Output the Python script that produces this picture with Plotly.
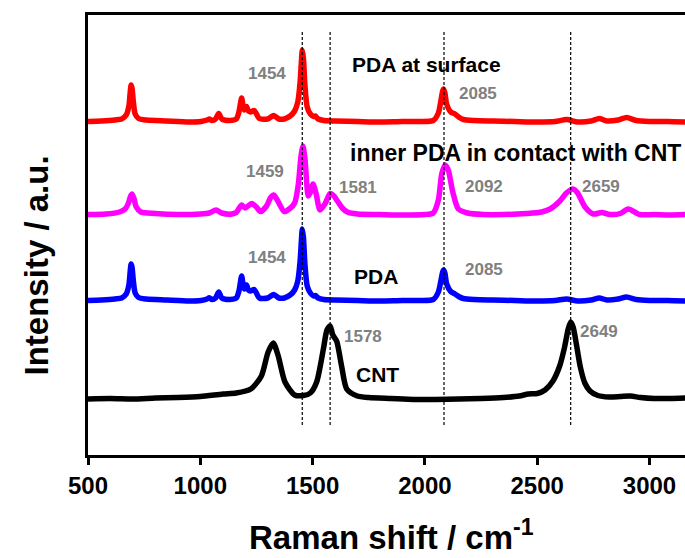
import plotly.graph_objects as go

# ---- Raman spectra (shift in cm^-1, intensity in a.u. above each baseline) ----
pda_shift = [500, 560, 620, 650, 670, 682, 688, 692, 696, 702, 710, 725, 760, 850, 950,
             1003, 1030, 1040, 1052, 1068, 1082, 1096, 1130, 1160, 1172, 1184, 1190, 1196,
             1206, 1214, 1223, 1240, 1263, 1300, 1327, 1350, 1374, 1400, 1420, 1434, 1444,
             1450, 1454, 1459, 1466, 1476, 1490, 1505, 1512, 1525, 1550, 1600, 1700, 1800,
             1900, 1980, 2037, 2060, 2071, 2079, 2083, 2089, 2097, 2115, 2134, 2150, 2171,
             2220, 2300, 2400, 2500, 2580, 2631, 2680, 2740, 2776, 2810, 2860, 2898, 2940,
             3000, 3080, 3160]

pda_surface = [0.05, 0.1, 0.2, 0.3, 0.7, 1.6, 3.0, 3.7, 3.4, 2.0, 0.8, 0.35, 0.2, 0.1, 0.0,
               0.05, 0.2, 0.3, 0.15, 0.3, 0.85, 0.3, 0.15, 0.3, 1.0, 2.4, 1.7, 1.2,
               1.55, 1.1, 1.0, 1.15, 0.35, 0.3, 0.65, 0.3, 0.3, 0.6, 1.1, 2.0, 3.9,
               6.0, 7.2, 6.4, 3.6, 1.5, 0.8, 0.55, 0.6, 0.3, 0.15, 0.1, 0.05, 0.0,
               0.05, 0.05, 0.15, 0.9, 2.1, 3.1, 3.3, 2.9, 1.8, 1.0, 0.8, 0.5, 0.25,
               0.15, 0.1, 0.05, 0.0, 0.05, 0.25, 0.0, 0.1, 0.35, 0.1, 0.2, 0.45, 0.15,
               0.05, 0.05, 0.0]

pda = [0.05, 0.1, 0.2, 0.3, 0.7, 1.6, 3.0, 3.7, 3.4, 2.0, 0.8, 0.35, 0.2, 0.1, 0.0,
       0.05, 0.2, 0.33, 0.15, 0.3, 0.9, 0.3, 0.15, 0.3, 1.0, 2.5, 1.7, 1.2,
       1.6, 1.1, 1.0, 1.15, 0.3, 0.3, 0.65, 0.3, 0.3, 0.6, 1.1, 2.0, 3.9,
       6.0, 7.2, 6.4, 3.6, 1.5, 0.8, 0.5, 0.55, 0.3, 0.15, 0.1, 0.05, 0.0,
       0.05, 0.05, 0.15, 0.9, 2.0, 2.9, 3.1, 2.8, 1.7, 0.95, 0.7, 0.45, 0.25,
       0.15, 0.1, 0.05, 0.0, 0.05, 0.2, 0.0, 0.1, 0.3, 0.1, 0.2, 0.4, 0.15,
       0.05, 0.05, 0.0]

inner_shift = [500, 580, 640, 665, 680, 690, 696, 704, 715, 735, 800, 900, 1000, 1040, 1070,
               1095, 1140, 1160, 1184, 1200, 1229, 1250, 1268, 1295, 1312, 1327, 1345, 1374,
               1399, 1420, 1436, 1448, 1457, 1466, 1481, 1491, 1502, 1515, 1533, 1555, 1578,
               1595, 1612, 1632, 1655, 1700, 1800, 1900, 2000, 2037, 2060, 2075, 2090, 2104,
               2124, 2149, 2190, 2260, 2350, 2453, 2520, 2557, 2601, 2630, 2659, 2680, 2713,
               2750, 2787, 2824, 2870, 2905, 2957, 3020, 3090, 3160]

inner_pda = [0.05, 0.1, 0.3, 0.6, 1.2, 1.9, 2.1, 1.7, 0.8, 0.3, 0.15, 0.05, 0.1, 0.2, 0.5,
             0.2, 0.1, 0.25, 1.0, 0.7, 1.15, 0.8, 0.35, 0.9, 1.7, 2.0, 1.4, 0.35,
             0.65, 1.2, 3.0, 5.8, 6.9, 5.6, 1.9, 2.3, 3.1, 2.2, 0.5, 1.1, 2.15,
             1.9, 1.35, 0.7, 0.3, 0.1, 0.05, 0.0, 0.05, 0.2, 1.5, 4.1, 5.0, 4.5,
             2.3, 0.6, 0.2, 0.05, 0.05, 0.15, 0.3, 0.6, 1.4, 2.2, 2.6, 2.2, 0.8,
             0.1, 0.25, 0.05, 0.15, 0.6, 0.05, 0.05, 0.0, 0.05]

cnt_shift = [500, 600, 700, 800, 900, 1000, 1101, 1160, 1225, 1272, 1302, 1325, 1347, 1377,
             1420, 1459, 1490, 1518, 1548, 1564, 1578, 1590, 1607, 1629, 1652, 1696, 1750,
             1850, 1950, 2050, 2150, 2250, 2350, 2420, 2460, 2500, 2535, 2570, 2600, 2622,
             2638, 2649, 2660, 2675, 2692, 2712, 2735, 2770, 2820, 2870, 2915, 2960, 3020,
             3090, 3160]

cnt = [0.0, 0.05, 0.0, 0.1, 0.15, 0.25, 0.5, 0.6, 1.0, 2.3, 4.7, 5.6, 4.3, 1.7,
       0.4, 0.35, 0.6, 1.7, 5.0, 6.9, 7.3, 6.4, 5.8, 3.3, 1.0, 0.33, 0.15,
       0.05, -0.05, -0.05, 0.0, 0.05, 0.15, 0.3, 0.5, 0.55, 0.9, 1.8, 3.3, 5.2,
       7.0, 7.7, 7.2, 5.4, 3.2, 1.6, 0.8, 0.35, 0.2, 0.25, 0.3, 0.15, 0.05,
       0.05, 0.1]

# vertical stacking offsets of the four spectra
offsets = {"PDA at surface": 33.3, "inner PDA": 24.0, "PDA": 15.4, "CNT": 5.6}

# characteristic band positions (dashed guides)
band_lines = [1454, 1578, 2085, 2649]

# band labels: (text, x, y)
band_labels = [
    ("1454", 1297, 38.15), ("2085", 2236, 36.15),
    ("1459", 1288, 28.35), ("1581", 1702, 26.8), ("2092", 2263, 26.85), ("2659", 2784, 26.9),
    ("1454", 1297, 19.8), ("2085", 2263, 18.6),
    ("1578", 1724, 11.9), ("2649", 2775, 12.4),
]

# sample names: (text, x, y, font size)
sample_labels = [
    ("PDA at surface", 2009, 39.1, 21),
    ("inner PDA in contact with CNT", 2405, 30.2, 23),
    ("PDA", 1782, 17.9, 21),
    ("CNT", 1791, 8.1, 21),
]

assert len(pda_shift) == len(pda_surface) == len(pda)
assert len(inner_shift) == len(inner_pda)
assert len(cnt_shift) == len(cnt)

FONT = "Liberation Sans, Arial, sans-serif"

series = [
    (pda_shift, pda_surface, offsets["PDA at surface"], "#ff0000"),
    (inner_shift, inner_pda, offsets["inner PDA"], "#ff00ff"),
    (pda_shift, pda, offsets["PDA"], "#0000ff"),
    (cnt_shift, cnt, offsets["CNT"], "#000000"),
]

fig = go.Figure()
for xs, ys, off, color in series:
    fig.add_trace(go.Scatter(
        x=xs, y=[v + off for v in ys], mode="lines",
        line=dict(color=color, width=5.5, shape="spline", smoothing=0.7),
        showlegend=False, hoverinfo="skip",
    ))

for pos in band_lines:
    fig.add_shape(type="line", xref="x", yref="y", x0=pos, x1=pos, y0=3.0, y1=42.4,
                  line=dict(color="black", width=1.2, dash="3px,2px"), layer="above")

for text, x, y in band_labels:
    fig.add_annotation(x=x, y=y, text=text, showarrow=False,
                       font=dict(family=FONT, size=17, color="#808080", weight="bold"))

for text, x, y, size in sample_labels:
    fig.add_annotation(x=x, y=y, text=text, showarrow=False,
                       font=dict(family=FONT, size=size, color="black", weight="bold"))

# axis titles
fig.add_annotation(xref="paper", yref="paper", x=-0.086, y=0.43, text="Intensity / a.u.",
                   textangle=-90, showarrow=False, xanchor="center", yanchor="middle",
                   font=dict(family=FONT, size=33, color="black", weight="bold"))
fig.add_annotation(xref="paper", yref="paper", x=0.509, y=-0.182,
                   text="Raman shift / cm<sup>-1</sup>",
                   showarrow=False, xanchor="center", yanchor="middle",
                   font=dict(family=FONT, size=33, color="black", weight="bold"))

fig.update_layout(
    width=685, height=558,
    margin=dict(l=88, r=0, t=15, b=103),
    paper_bgcolor="white", plot_bgcolor="white",
    xaxis=dict(range=[500, 3158], tickvals=[500, 1000, 1500, 2000, 2500, 3000],
               showline=True, linecolor="black", linewidth=3, mirror=True,
               ticks="outside", ticklen=7, tickwidth=3, tickcolor="black",
               tickfont=dict(family=FONT, size=24, color="black", weight="bold"),
               showgrid=False, zeroline=False),
    yaxis=dict(range=[0, 44], showline=True, linecolor="black", linewidth=3,
               mirror=False, ticks="", showticklabels=False,
               showgrid=False, zeroline=False),
)

fig.write_html("out.html")
